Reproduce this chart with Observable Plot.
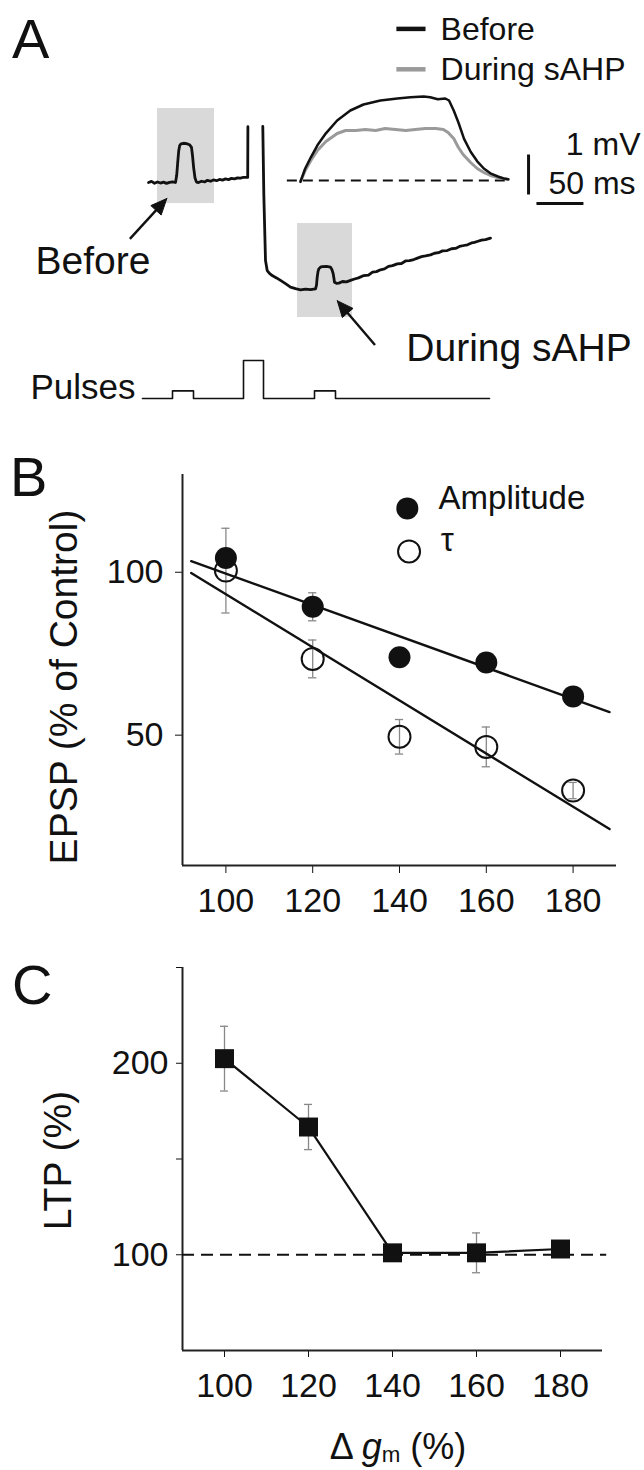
<!DOCTYPE html>
<html>
<head>
<meta charset="utf-8">
<script src="https://cdn.jsdelivr.net/npm/d3@7"></script>
<script src="https://cdn.jsdelivr.net/npm/@observablehq/plot@0.6"></script>
<style>
  body { margin: 0; background: #fff; }
  #fig { position: relative; width: 644px; height: 1470px; background: #fff; overflow: hidden;
         font-family: 'Liberation Sans', Arial, Helvetica, sans-serif; color: #111; }
  #fig svg { position: absolute; left: 0; overflow: visible; background: none; }
  #fig svg g[aria-label^="x-axis"] line, #fig svg g[aria-label^="y-axis"] line { stroke-width: 1.8px; }
  .panel { position: absolute; font-size: 56px; line-height: 1; }
  .xtitle { position: absolute; left: 398px; top: 1429px; transform: translateX(-50%);
            font-size: 36px; line-height: 1; white-space: nowrap; }
  .xtitle sub { font-size: 0.62em; vertical-align: baseline; position: relative; top: 0.15em; line-height: 0; }
</style>
</head>
<body>
<div id="fig">
  <div class="panel" style="left:12px;top:11px">A</div>
  <div class="panel" style="left:10px;top:449px">B</div>
  <div class="panel" style="left:12px;top:957px">C</div>
  <div class="xtitle">Δ <i>g</i><sub>m</sub> (%)</div>
</div>
<script>
// ================= Panel A data =================
// Voltage trace (ms, mV): before the spike train
const beforeT = [60,90,120,150,180,210,240,270,300,330,342,352,362,372,385,410,440,470,490,500,512,525,540,560,590,620,650,680,710,740,770,800,830,860,890,920,950,980,1010,1040,1052,1054];
const beforeV = [-65.0,-64.94,-65.04,-64.97,-65.03,-64.98,-65.05,-64.99,-64.96,-65.0,-64.6,-63.9,-63.25,-62.95,-62.85,-62.82,-62.84,-62.9,-63.05,-63.5,-64.2,-64.75,-64.98,-65.0,-64.93,-64.97,-64.88,-64.93,-64.86,-64.9,-64.83,-64.87,-64.8,-64.84,-64.77,-64.8,-64.74,-64.76,-64.71,-64.72,-64.72,-61.9];
// Voltage trace after the spike train (sAHP)
const afterT = [1203,1213,1230,1247,1270,1297,1340,1380,1430,1480,1530,1580,1630,1680,1730,1740,1747,1755,1763,1780,1797,1840,1880,1895,1907,1915,1920,1940,1963,2000,2040,2080,2120,2160,2213,2260,2300,2340,2380,2420,2460,2500,2547,2590,2630,2670,2713,2750,2790,2830,2880,2920,2960,3000,3047,3090,3130,3170,3213,3250,3290,3320,3347,3390,3430,3480];
const afterV = [-61.89,-65.63,-69.33,-69.89,-70.05,-70.17,-70.3,-70.44,-70.62,-70.81,-70.9,-70.96,-70.92,-70.95,-70.91,-70.7,-70.26,-69.95,-69.8,-69.7,-69.67,-69.66,-69.7,-69.85,-70.07,-70.35,-70.54,-70.6,-70.59,-70.5,-70.52,-70.44,-70.36,-70.3,-70.17,-70.14,-69.98,-69.95,-69.85,-69.8,-69.66,-69.62,-69.52,-69.5,-69.36,-69.34,-69.28,-69.2,-69.12,-69.08,-69.02,-68.93,-68.9,-68.8,-68.78,-68.68,-68.66,-68.55,-68.5,-68.46,-68.36,-68.33,-68.28,-68.2,-68.17,-68.09];
// Highlighted windows (ms, mV)
const boxNames = ["Before", "During sAHP"];
const boxT1 = [150, 1550];
const boxT2 = [720, 2100];
const boxV1 = [-66.17, -72.5];
const boxV2 = [-60.89, -67.28];
// Current pulses (ms, nA)
const pulseT = [0, 300, 510, 1010, 1210, 1720, 1930, 3470];
const pulseI = [0, 0.2, 0, 1, 0, 0.2, 0, 0];
// Inset EPSPs (ms, mV above baseline)
const epspBeforeT = [0,5,11,18,27,39,53,67,85,103,117,131,138,146,154,158,163,168,174,181,188,195,202,210,216,221];
const epspBeforeV = [-0.03,0.3,0.58,0.88,1.18,1.5,1.75,1.9,2.0,2.05,2.08,2.1,2.08,2.03,2.05,2.0,1.75,1.45,1.04,0.72,0.48,0.3,0.18,0.1,0.05,0.03];
const epspSahpT = [0,5,11,18,27,39,48,59,69,80,90,101,112,122,133,144,152,157,163,168,173,181,188,195,202,210,216,221];
const epspSahpV = [-0.03,0.25,0.5,0.75,0.975,1.175,1.25,1.25,1.275,1.25,1.3,1.275,1.25,1.275,1.3,1.3,1.275,1.2,1.05,0.825,0.65,0.45,0.3,0.2,0.125,0.075,0.05,0.025];
const legendNamesA = ["Before", "During sAHP"];

// ================= Panel B data =================
const gm = [100, 120, 140, 160, 180];
const ampMean = [104.4, 89.4, 73.9, 72.3, 61.9];
const ampErr  = [0, 4.3, 0, 0, 0];
const tauMean = [100.5, 73.4, 49.5, 46.4, 33.0];
const tauErr  = [13.0, 5.8, 5.3, 6.1, 2.5];
const fitX   = [92, 188.4];
const ampFit = [103.4, 57.1];
const tauFit = [99.8, 21.2];
const legendNamesB = ["Amplitude", "τ"];

// ================= Panel C data =================
const ltpMean = [202.4, 166.7, 101, 101, 103];
const ltpErr  = [16.9, 11.8, 3, 10.4, 3];

// ================= Drawing =================
const fontFamily = "'Liberation Sans', Arial, Helvetica, sans-serif";
const baseStyle = { background: "none", fontFamily, fontSize: "34px", color: "#111", overflow: "visible" };
const fig = document.getElementById("fig");
function place(svg, top) { svg.style.top = top + "px"; fig.appendChild(svg); }
const ink = "#111", errGray = "#888", sahpGray = "#9a9a9a";

// ---- Panel A : membrane trace ----
const mainX = { domain: [0, 3500], range: [142, 492] };
const mainY = { domain: [-72, -62], range: [308, 128] };
const sx = Plot.scale({ x: mainX });
const sy = Plot.scale({ y: mainY });

const traceRows = [
  ...beforeT.map((t, i) => ({ seg: "before", t, v: beforeV[i] })),
  ...afterT.map((t, i) => ({ seg: "after", t, v: afterV[i] }))
];
const boxes = boxNames.map((name, i) => ({ name, t1: boxT1[i], t2: boxT2[i], v1: boxV1[i], v2: boxV2[i] }));

// annotation arrows (tail -> tip, in trace units)
const arrows = [
  { tail: [-126, -68.13], tip: [243, -65.89] },
  { tail: [2325, -74.03], tip: [1948, -71.57] }
];
function head(a, len = 16, half = 7) {
  const x0 = sx.apply(a.tail[0]), y0 = sy.apply(a.tail[1]);
  const x1 = sx.apply(a.tip[0]), y1 = sy.apply(a.tip[1]);
  const d = Math.hypot(x1 - x0, y1 - y0), ux = (x1 - x0) / d, uy = (y1 - y0) / d;
  const bx = x1 - ux * len, by = y1 - uy * len;
  const pts = [[x1, y1], [bx - uy * half, by + ux * half], [bx + uy * half, by - ux * half], [x1, y1]];
  return { base: [sx.invert(bx + ux * 2), sy.invert(by + uy * 2)],
           poly: pts.map(([px, py]) => ({ t: sx.invert(px), v: sy.invert(py) })) };
}
const heads = arrows.map(a => head(a));
const shafts = arrows.map((a, i) => ({ t1: a.tail[0], v1: a.tail[1], t2: heads[i].base[0], v2: heads[i].base[1] }));

place(Plot.plot({
  width: 644, height: 420,
  marginLeft: 142, marginRight: 152, marginTop: 128, marginBottom: 112,
  x: { domain: mainX.domain, axis: null },
  y: { domain: mainY.domain, axis: null },
  style: baseStyle,
  marks: [
    Plot.rect(boxes, { x1: "t1", x2: "t2", y1: "v1", y2: "v2", fill: "#d9d9d9" }),
    Plot.line(traceRows, { x: "t", y: "v", z: "seg", stroke: ink, strokeWidth: 2.8, strokeLinejoin: "round" }),
    Plot.link(shafts, { x1: "t1", y1: "v1", x2: "t2", y2: "v2", stroke: ink, strokeWidth: 2.4 }),
    Plot.line(heads[0].poly, { x: "t", y: "v", fill: ink, stroke: ink, strokeWidth: 1 }),
    Plot.line(heads[1].poly, { x: "t", y: "v", fill: ink, stroke: ink, strokeWidth: 1 }),
    Plot.text([boxNames[0]], { x: -495, y: -69.39, text: d => d, fontSize: 39 }),
    Plot.text([boxNames[1]], { x: 3765, y: -74.23, text: d => d, fontSize: 39 })
  ]
}), 0);

// ---- Panel A : current pulses ----
const pulseRows = pulseT.map((t, i) => ({ t, i: pulseI[i] }));
place(Plot.plot({
  width: 644, height: 420,
  marginLeft: 142, marginRight: 152, marginTop: 360, marginBottom: 22,
  x: { domain: mainX.domain, axis: null },
  y: { domain: [0, 1], axis: null },
  style: baseStyle,
  marks: [
    Plot.line(pulseRows, { x: "t", y: "i", curve: "step-after", stroke: ink, strokeWidth: 1.6 }),
    Plot.text(["Pulses"], { x: -70, y: 0.27, text: d => d, textAnchor: "end", fontSize: 35 })
  ]
}), 0);

// ---- Panel A : inset EPSPs ----
const epspBefore = epspBeforeT.map((t, i) => ({ t, v: epspBeforeV[i] }));
const epspSahp = epspSahpT.map((t, i) => ({ t, v: epspSahpV[i] }));
place(Plot.plot({
  width: 644, height: 420,
  marginLeft: 300, marginRight: 109, marginTop: 100, marginBottom: 240,
  x: { domain: [0, 250], axis: null },
  y: { domain: [0, 2], axis: null },
  style: baseStyle,
  marks: [
    Plot.ruleY([0], { x1: -14, x2: 224, stroke: ink, strokeWidth: 2, strokeDasharray: "10,6" }),
    Plot.line(epspSahp, { x: "t", y: "v", stroke: sahpGray, strokeWidth: 3 }),
    Plot.line(epspBefore, { x: "t", y: "v", stroke: ink, strokeWidth: 2.5 }),
    // scale bars: 1 mV and 50 ms
    Plot.link([1], { x1: 242.6, x2: 242.6, y1: -0.35, y2: 0.65, stroke: ink, strokeWidth: 3 }),
    Plot.link([50], { x1: 251, x2: 301, y1: -0.575, y2: -0.575, stroke: ink, strokeWidth: 3 }),
    Plot.text(["1 mV"], { x: 361.7, y: 0.905, text: d => d, textAnchor: "end", fontSize: 32 }),
    Plot.text(["50 ms"], { x: 263.8, y: -0.07, text: d => d, textAnchor: "start", fontSize: 32 }),
    // legend
    Plot.link([legendNamesA[0]], { x1: 102, x2: 133, y1: 3.79, y2: 3.79, stroke: ink, strokeWidth: 4.5 }),
    Plot.link([legendNamesA[1]], { x1: 102, x2: 133, y1: 2.78, y2: 2.78, stroke: sahpGray, strokeWidth: 4.5 }),
    Plot.text([legendNamesA[0]], { x: 149, y: 3.765, text: d => d, textAnchor: "start", fontSize: 32 }),
    Plot.text([legendNamesA[1]], { x: 149, y: 2.78, text: d => d, textAnchor: "start", fontSize: 32 })
  ]
}), 0);

// ---- Panel B ----
const rowsB = gm.map((g, i) => ({ gm: g, amp: ampMean[i], ampErr: ampErr[i], tau: tauMean[i], tauErr: tauErr[i] }));
const errB = [
  ...rowsB.filter(d => d.ampErr > 0).map(d => ({ gm: d.gm, lo: d.amp - d.ampErr, hi: d.amp + d.ampErr })),
  ...rowsB.filter(d => d.tauErr > 0).map(d => ({ gm: d.gm, lo: d.tau - d.tauErr, hi: d.tau + d.tauErr }))
];
const capsB = errB.flatMap(d => [{ gm: d.gm, y: d.lo }, { gm: d.gm, y: d.hi }]);
const fitRows = fitX.map((x, i) => ({ x, amp: ampFit[i], tau: tauFit[i] }));
const capHalf = 0.95;

place(Plot.plot({
  width: 644, height: 480,
  marginTop: 34, marginBottom: 55, marginLeft: 182, marginRight: 28,
  x: { domain: [90, 190], ticks: gm, tickSize: 8, tickPadding: 14, label: null },
  y: { domain: [10, 130], ticks: [50, 100], tickSize: 7, tickPadding: 12, label: null },
  style: baseStyle,
  marks: [
    Plot.ruleX([90], { stroke: "#222", strokeWidth: 2 }),
    Plot.ruleY([10], { stroke: "#222", strokeWidth: 2 }),
    Plot.ruleX(errB, { x: "gm", y1: "lo", y2: "hi", stroke: errGray, strokeWidth: 1.3 }),
    Plot.ruleY(capsB, { y: "y", x1: d => d.gm - capHalf, x2: d => d.gm + capHalf, stroke: errGray, strokeWidth: 1.3 }),
    Plot.line(fitRows, { x: "x", y: "amp", stroke: ink, strokeWidth: 2.4 }),
    Plot.line(fitRows, { x: "x", y: "tau", stroke: ink, strokeWidth: 2.4 }),
    Plot.dot(rowsB, { x: "gm", y: "amp", r: 11, fill: ink, stroke: "none" }),
    Plot.dot(rowsB, { x: "gm", y: "tau", r: 11, fill: "none", stroke: ink, strokeWidth: 2 }),
    // legend
    Plot.dot([legendNamesB[0]], { x: 141.8, y: 119.6, r: 11, fill: ink, stroke: "none" }),
    Plot.dot([legendNamesB[1]], { x: 142.2, y: 106.4, r: 11, fill: "none", stroke: ink, strokeWidth: 2 }),
    Plot.text([legendNamesB[0]], { x: 149, y: 122.7, text: d => d, textAnchor: "start", fontSize: 33 }),
    Plot.text([legendNamesB[1]], { x: 149.5, y: 109.7, text: d => d, textAnchor: "start", fontSize: 33 }),
    // axis title
    Plot.text(["EPSP (% of Control)"], { frameAnchor: "left", text: d => d, rotate: -90, textAnchor: "middle", dx: -118, dy: 17, fontSize: 39 })
  ]
}), 440);

// ---- Panel C ----
const rowsC = gm.map((g, i) => ({ gm: g, ltp: ltpMean[i], lo: ltpMean[i] - ltpErr[i], hi: ltpMean[i] + ltpErr[i] }));
const capsC = rowsC.flatMap(d => [{ gm: d.gm, y: d.lo }, { gm: d.gm, y: d.hi }]);

place(Plot.plot({
  width: 644, height: 490,
  marginTop: 37, marginBottom: 70, marginLeft: 182, marginRight: 42,
  x: { domain: [90, 190], ticks: gm, tickSize: 7, tickPadding: 15, label: null },
  y: { domain: [50, 250], ticks: [100, 150, 200, 250], tickFormat: d => (d % 100 === 0 ? d : ""), tickSize: 6, tickPadding: 8, label: null },
  style: baseStyle,
  marks: [
    Plot.ruleX([90], { stroke: "#222", strokeWidth: 2 }),
    Plot.ruleY([50], { stroke: "#222", strokeWidth: 2 }),
    Plot.ruleY([100], { x1: 90, x2: 191, stroke: ink, strokeWidth: 2, strokeDasharray: "12,7" }),
    Plot.ruleX(rowsC, { x: "gm", y1: "lo", y2: "hi", stroke: errGray, strokeWidth: 1.3 }),
    Plot.ruleY(capsC, { y: "y", x1: d => d.gm - capHalf, x2: d => d.gm + capHalf, stroke: errGray, strokeWidth: 1.3 }),
    Plot.line(rowsC, { x: "gm", y: "ltp", stroke: ink, strokeWidth: 2.2 }),
    Plot.dot(rowsC, { x: "gm", y: "ltp", symbol: "square", r: 10.7, fill: ink, stroke: "none" }),
    Plot.text(["LTP (%)"], { frameAnchor: "left", text: d => d, rotate: -90, textAnchor: "middle", dx: -124, dy: 1.5, fontSize: 39 })
  ]
}), 930);
</script>
</body>
</html>
